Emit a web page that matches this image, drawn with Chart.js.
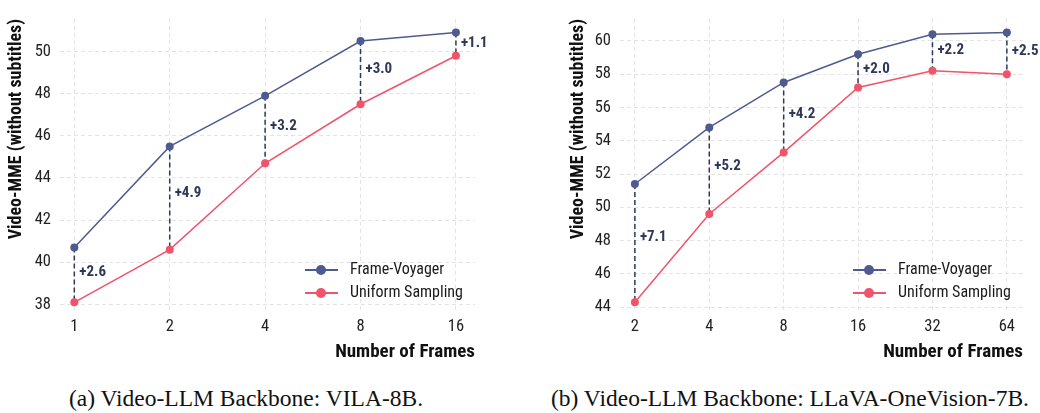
<!DOCTYPE html>
<html>
<head>
<meta charset="utf-8">
<script src="https://cdn.jsdelivr.net/npm/chart.js@4"></script>
<style>
  html, body { margin: 0; padding: 0; background: #ffffff; }
  #wrap { position: relative; width: 1040px; height: 413px; overflow: hidden; }
  .box { position: absolute; top: 0; width: 520px; height: 372px; }
  .cap { position: absolute; top: 385px; font-family: 'Liberation Serif', 'Times New Roman', serif; font-size: 23.5px; line-height: 26px; color: #111; white-space: nowrap; transform: translateX(-50%); }
</style>
</head>
<body>
<div id="wrap">
  <div class="box" style="left:0"><canvas id="c1" width="520" height="372"></canvas></div>
  <div class="box" style="left:520px"><canvas id="c2" width="520" height="372"></canvas></div>
  <div class="cap" style="left:246px">(a) Video-LLM Backbone: VILA-8B.</div>
  <div class="cap" style="left:790px">(b) Video-LLM Backbone: LLaVA-OneVision-7B.</div>
</div>
<script>
// ---- Data ----
const framesA = ['1', '2', '4', '8', '16'];
const voyagerA = [40.7, 45.5, 47.9, 50.5, 50.9];
const uniformA = [38.1, 40.6, 44.7, 47.5, 49.8];
const yTicksA = [38, 40, 42, 44, 46, 48, 50];

const framesB = ['2', '4', '8', '16', '32', '64'];
const voyagerB = [51.4, 54.8, 57.5, 59.2, 60.4, 60.5];
const uniformB = [44.3, 49.6, 53.3, 57.2, 58.2, 58.0];
const yTicksB = [44, 46, 48, 50, 52, 54, 56, 58, 60];

const seriesNames = ['Frame-Voyager', 'Uniform Sampling'];
const yTitle = 'Video-MME (without subtitles)';
const xTitle = 'Number of Frames';

// ---- Style ----
const BLUE = '#4E5B90';
const PINK = '#F0536A';
const NAVY = '#2E3858';
const FONT = "'Roboto Condensed', 'Liberation Sans Narrow', 'Roboto', sans-serif";

const gapPlugin = {
  id: 'gaps',
  beforeDatasetsDraw(chart) {
    const ctx = chart.ctx, xs = chart.scales.x, ys = chart.scales.y;
    const a = chart.data.datasets[0].data, b = chart.data.datasets[1].data;
    ctx.save();
    ctx.strokeStyle = NAVY;
    ctx.lineWidth = 1.5;
    ctx.setLineDash([5, 3]);
    a.forEach((p, i) => {
      const x = xs.getPixelForValue(p.x);
      ctx.beginPath();
      ctx.moveTo(x, ys.getPixelForValue(p.y));
      ctx.lineTo(x, ys.getPixelForValue(b[i].y));
      ctx.stroke();
    });
    ctx.restore();
  },
  afterDatasetsDraw(chart) {
    const ctx = chart.ctx, xs = chart.scales.x, ys = chart.scales.y;
    const a = chart.data.datasets[0].data, b = chart.data.datasets[1].data;
    ctx.save();
    ctx.fillStyle = NAVY;
    ctx.font = 'bold 15px ' + FONT;
    ctx.textAlign = 'left';
    ctx.textBaseline = 'middle';
    a.forEach((p, i) => {
      const d = p.y - b[i].y;
      const x = xs.getPixelForValue(p.x);
      const y = ys.getPixelForValue(b[i].y + d * 0.55);
      ctx.fillText('+' + d.toFixed(1), x + 5, y);
    });
    // legend
    const ca = chart.chartArea;
    const x0 = ca.right - 170;
    const rows = [ca.bottom - 42, ca.bottom - 19];
    const cols = [BLUE, PINK];
    ctx.font = '16px ' + FONT;
    rows.forEach((y, k) => {
      ctx.strokeStyle = cols[k];
      ctx.fillStyle = cols[k];
      ctx.lineWidth = 2;
      ctx.beginPath();
      ctx.moveTo(x0, y);
      ctx.lineTo(x0 + 33, y);
      ctx.stroke();
      ctx.beginPath();
      ctx.arc(x0 + 16, y, 5, 0, Math.PI * 2);
      ctx.fill();
      ctx.fillStyle = '#1a1a1a';
      ctx.fillText(seriesNames[k], x0 + 45, y);
    });
    ctx.restore();
  }
};

function makeChart(id, frames, fv, us, yTicks, xMin, xMax, yMin, yMax, padLeft, yWidth, padRight) {
  const toPts = arr => arr.map((v, i) => ({ x: i, y: v }));
  return new Chart(document.getElementById(id), {
    type: 'line',
    data: {
      datasets: [
        { label: seriesNames[0], data: toPts(fv), borderColor: BLUE, backgroundColor: BLUE,
          borderWidth: 1.5, pointRadius: 4, pointBorderWidth: 0, pointBackgroundColor: BLUE, tension: 0 },
        { label: seriesNames[1], data: toPts(us), borderColor: PINK, backgroundColor: PINK,
          borderWidth: 1.5, pointRadius: 4, pointBorderWidth: 0, pointBackgroundColor: PINK, tension: 0 }
      ]
    },
    options: {
      responsive: false,
      animation: false,
      layout: { padding: { left: padLeft, right: padRight, top: 5, bottom: 0 } },
      plugins: { legend: { display: false }, tooltip: { enabled: false } },
      scales: {
        x: {
          type: 'linear', min: xMin, max: xMax,
          afterBuildTicks: s => { s.ticks = frames.map((_, i) => ({ value: i })); },
          afterFit: s => { s.height = 60; },
          ticks: { callback: v => frames[v], color: '#222', font: { family: FONT, size: 16.5 }, padding: 5, maxRotation: 0 },
          grid: { color: '#e4e4e4', lineWidth: 1, drawTicks: false },
          border: { display: false, dash: [4, 3] },
          title: { display: true, text: xTitle, align: 'end', color: '#111',
                   font: { family: FONT, size: 19, weight: 'bold' }, padding: { top: 0, bottom: 8 } }
        },
        y: {
          type: 'linear', min: yMin, max: yMax,
          afterBuildTicks: s => { s.ticks = yTicks.map(v => ({ value: v })); },
          afterFit: s => { s.width = yWidth; },
          ticks: { color: '#222', font: { family: FONT, size: 16.5 }, padding: 9 },
          grid: { color: '#e4e4e4', lineWidth: 1, drawTicks: false },
          border: { display: false, dash: [4, 3] },
          title: { display: true, text: yTitle, align: 'end', color: '#111',
                   font: { family: FONT, size: 18, weight: 'bold' }, padding: { top: 6, bottom: 0 } }
        }
      }
    },
    plugins: [gapPlugin]
  });
}

makeChart('c1', framesA, voyagerA, uniformA, yTicksA, -0.15, 4.2, 37.64, 51.55, 0, 60, 45);
makeChart('c2', framesB, voyagerB, uniformB, yTicksB, -0.2, 5.217, 43.71, 61.32, 42, 58, 17);
</script>
</body>
</html>
